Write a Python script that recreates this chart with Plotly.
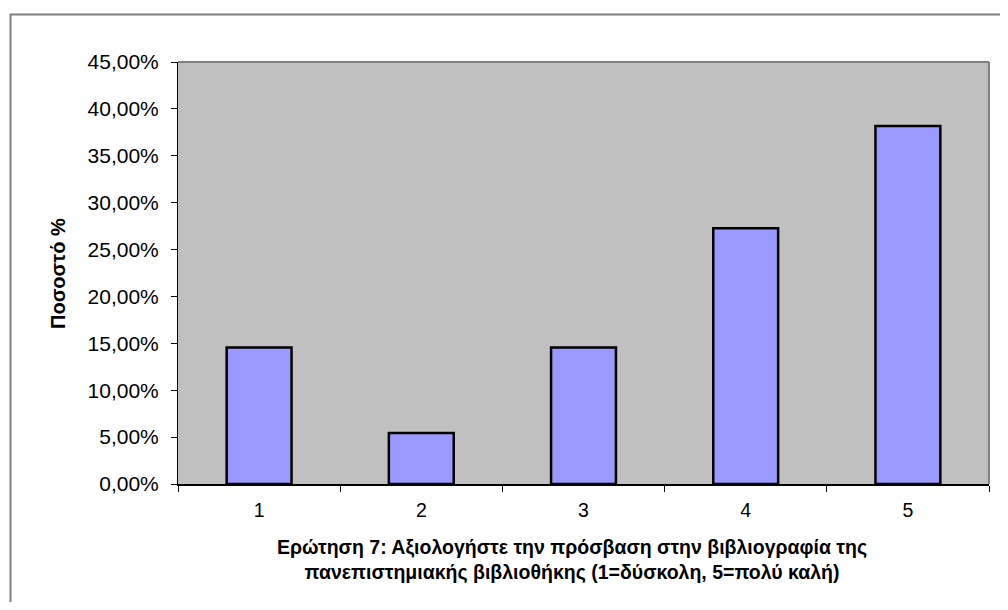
import plotly.graph_objects as go

categories = ["1", "2", "3", "4", "5"]
values = [0.1455, 0.0545, 0.1455, 0.2727, 0.3818]
y_ticks = [0, 0.05, 0.10, 0.15, 0.20, 0.25, 0.30, 0.35, 0.40, 0.45]
x_title_lines = [
    "Ερώτηση 7: Αξιολογήστε την πρόσβαση στην βιβλιογραφία της",
    "πανεπιστημιακής βιβλιοθήκης (1=δύσκολη, 5=πολύ καλή)",
]
y_title = "Ποσοστό %"

FONT = "Liberation Sans, Arial, sans-serif"

# page body has an 8px margin; work in reference-image coordinates
OFF = 8
W, H = 992, 594
REF_L, REF_T, REF_R, REF_B = 178, 62, 989, 484
L, T = REF_L - OFF, REF_T - OFF
R, B = W - (REF_R - OFF), H - (REF_B - OFF)
pw, ph = REF_R - REF_L, REF_B - REF_T


def px(x):
    return (x - REF_L) / pw


def py(y):
    return (REF_B - y) / ph


fig = go.Figure()
fig.add_trace(go.Bar(
    x=categories, y=values,
    marker=dict(color="#9999FF", line=dict(color="black", width=2.5)),
    width=0.4,
))

annotations = [
    dict(text="<b>%s<br>%s</b>" % (x_title_lines[0], x_title_lines[1]),
         xref="paper", yref="paper",
         x=px(572), y=py(559), xanchor="center", yanchor="middle", showarrow=False,
         align="center", font=dict(size=19.5, family=FONT)),
    dict(text="<b>%s</b>" % y_title, xref="paper", yref="paper",
         x=px(58), y=py(273), xanchor="center", yanchor="middle", showarrow=False,
         textangle=-90, font=dict(size=20, family=FONT)),
]

fig.update_layout(
    width=W, height=H,
    margin=dict(l=L, r=R, t=T, b=B, pad=0),
    plot_bgcolor="#C0C0C0",
    paper_bgcolor="white",
    separators=",.",
    showlegend=False,
    font=dict(family=FONT, color="black", size=20),
    xaxis=dict(
        type="category",
        showgrid=False,
        showline=True, linecolor="black", linewidth=1.5,
        ticks="outside", ticklen=6, tickcolor="black", tickson="boundaries",
        tickfont=dict(size=19.5, family=FONT),
        ticklabelstandoff=8,
    ),
    yaxis=dict(
        range=[0, 0.45],
        tickvals=y_ticks,
        tickformat=".2%",
        showgrid=False,
        showline=True, linecolor="black", linewidth=1,
        ticks="outside", ticklen=6, tickcolor="black",
        tickfont=dict(size=21, family=FONT),
        ticklabelstandoff=8,
        zeroline=False,
    ),
    shapes=[
        dict(type="line", xref="paper", yref="paper", x0=0, x1=1, y0=1, y1=1,
             line=dict(color="#808080", width=2)),
        dict(type="line", xref="paper", yref="paper", x0=1, x1=1, y0=0, y1=1,
             line=dict(color="#808080", width=2)),
        dict(type="rect", xref="paper", yref="paper",
             x0=px(10.5), x1=px(1040), y0=py(14.5), y1=py(650),
             line=dict(color="#808080", width=2)),
    ],
    annotations=annotations,
)

fig.write_html("out.html")
